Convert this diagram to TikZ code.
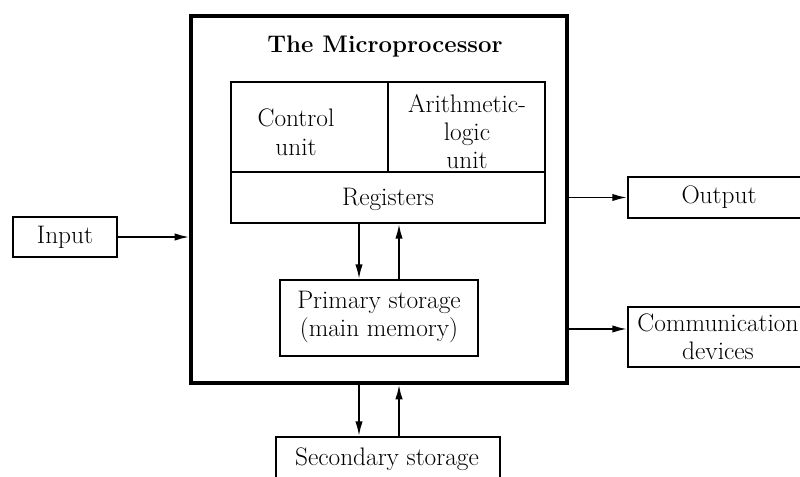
\documentclass[tikz,border=0pt]{standalone}
\usetikzlibrary{arrows.meta,fit}
\begin{document}
\begin{tikzpicture}[
  x=0.75pt, y=-0.75pt,
  every node/.style={font=\fontsize{19}{21}\selectfont, align=center},
  outerbox/.style={draw, line width=2.4pt, inner sep=0pt},
  unitbox/.style={draw, line width=1.4pt, inner sep=0pt},
  label/.style={inner sep=0pt},
  flow/.style={line width=1.4pt, -{Latex[length=11pt,width=5.5pt]}}
]
\useasboundingbox (0,0) rectangle (800,477);
\begin{scope}
\clip (0,0) rectangle (800,477);

% the processor and its parts
\node[outerbox, fit={(191,16) (567,383)}] (cpu) {};
\node[label, font=\fontsize{18}{20}\selectfont\bfseries] (title) at (385,47) {The Microprocessor};

\node[unitbox, fit={(231,82) (388,172)}] (ctrl) {};
\node[unitbox, fit={(388,82) (545,172)}] (alu) {};
\node[unitbox, fit={(231,172) (545,223)}] (reg) {};
\node[label] (ctrltext) at (296,132) {Control\\[1pt]unit};
\node[label] (alutext) at (467,132) {Arithmetic-\\logic\\unit};
\node[label] (regtext) at (388,199) {Registers};

\node[unitbox, fit={(280,280) (478,356)}] (prim) {};
\node[label] (primtext) at (379,317) {Primary storage\\(main memory)};

% devices around the processor
\node[unitbox, fit={(13,217) (117,257)}] (in) {};
\node[label] (intext) at (65,237) {Input};
\node[unitbox, fit={(628,177) (808,218)}] (out) {};
\node[label] (outtext) at (719,197) {Output};
\node[unitbox, fit={(628,307) (808,367)}] (comm) {};
\node[label] (commtext) at (718,337) {Communication\\devices};
\node[unitbox, fit={(276,437) (500,484)}] (sec) {};
\node[label] (sectext) at (387,459) {Secondary storage};

% connectors
\coordinate (dn) at (359,0);
\coordinate (up) at (399,0);
\coordinate (commrow) at (0,329);

\draw[flow] (reg.south -| dn) -- (prim.north -| dn);
\draw[flow] (prim.north -| up) -- (reg.south -| up);
\draw[flow] (cpu.south -| dn) -- (sec.north -| dn);
\draw[flow] (sec.north -| up) -- (cpu.south -| up);

\draw[flow] (in.east) -- (in.east -| cpu.west);
\draw[flow] (out.west -| cpu.east) -- (out.west);
\draw[flow] (commrow -| cpu.east) -- (commrow -| comm.west);
\end{scope}
\end{tikzpicture}
\end{document}
